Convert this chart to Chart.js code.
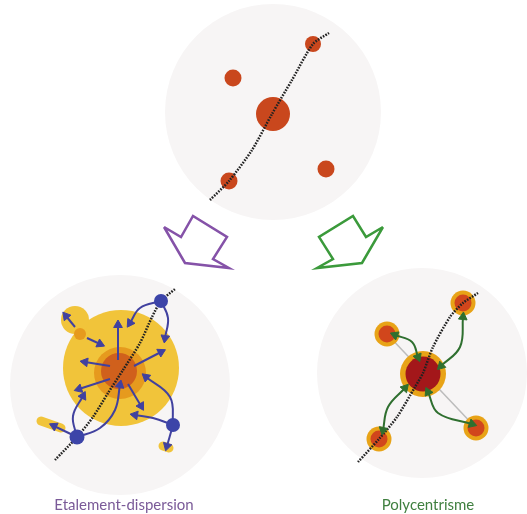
<!DOCTYPE html>
<html>
<head>
<meta charset="utf-8">
<script src="https://cdn.jsdelivr.net/npm/chart.js@4.4.1/dist/chart.umd.min.js"></script>
<style>
  body { margin: 0; background: #fff; }
</style>
</head>
<body>
<canvas id="diagram" width="527" height="514"></canvas>
<script>
// canvas-sized scales: x 0..527, y 0..488 (top down), captions sit on the x axis below
const captions = ['Etalement-dispersion', 'Polycentrisme'];
const captionX = [124, 428];
const captionColors = ['#7a5a98', '#3f7f3f'];

// faint discs behind each stage [x, y, r]
const backdrops = [[273, 112, 108], [120, 385, 110], [422, 373, 105]];

// top stage
const topTowns = [[313, 44, 8], [233, 78, 8.5], [273, 114, 17], [229, 181, 8.5], [326, 169, 8.5]];
const topAxis = [[210, 200], [229, 181], [252, 150], [272, 114], [292, 80], [313, 44], [329, 33]];

// the two block arrows
const purpleArrow = [[164, 227], [181, 237], [193, 216], [227, 237], [213, 259], [229, 268], [185, 263], [164, 227]];
const greenArrow = [[383, 227], [366, 237], [353, 216], [319, 237], [333, 259], [317, 268], [362, 263], [383, 227]];

// etalement-dispersion
const sprawlDiscs = [[121, 368, 58], [75, 320, 14]];
const sprawlStreaks = [[[41, 421], [61, 428]], [[163, 446], [169, 448]]];
const sprawlRing = [[120, 373, 26], [80, 334, 6]];
const sprawlCore = [[119, 371, 18]];
const sprawlTowns = [[161, 301, 7], [77, 437, 7.5], [173, 425, 7]];
const sprawlAxis = [[55, 460], [77, 437], [93, 417], [108, 393], [123, 370], [140, 343], [152, 317], [161, 301], [175, 289]];
const sprawlFlows = [
  [[118, 360], [118, 325]],
  [[134, 366], [161, 352]],
  [[110, 366], [85, 362]],
  [[110, 379], [79, 389]],
  [[128, 384], [141, 406]],
  [[75, 327], [66, 316]],
  [[87, 338], [100, 344]],
  [[77, 437], [54, 426]],
  [[77, 437], [73, 416], [83, 396]],
  [[77, 437], [100, 428], [115, 410], [120, 385]],
  [[161, 301], [140, 308], [130, 323]],
  [[161, 301], [168, 318], [165, 338]],
  [[173, 425], [170, 397], [146, 377]],
  [[173, 425], [153, 418], [135, 415]],
  [[173, 425], [167, 446]]
];

// polycentrisme
const poleRing = [[423, 374, 23]];
const poleCore = [[423, 374, 17.5]];
const satellites = [[463, 303], [387, 334], [379, 439], [476, 428]];
const poleLink = [[387, 334], [476, 428]];
const poleAxis = [[358, 462], [379, 439], [397, 417], [415, 387], [423, 373], [433, 347], [450, 317], [463, 303], [478, 293]];
const poleFlows = [
  [[395, 335], [412, 342], [418, 357]],
  [[441, 366], [460, 347], [463, 317]],
  [[405, 388], [388, 407], [383, 430]],
  [[428, 392], [438, 413], [472, 424]]
];

const xy = pts => pts.map(([x, y]) => ({x, y}));

function discs(list, color) {
  return {
    type: 'bubble',
    data: list.map(([x, y, r]) => ({x, y, r})),
    backgroundColor: color,
    borderWidth: 0,
    clip: false
  };
}

function path(pts, color, width, extra) {
  return Object.assign({
    type: 'line',
    data: xy(pts),
    borderColor: color,
    borderWidth: width,
    pointRadius: 0,
    tension: 0,
    fill: false,
    clip: false
  }, extra || {});
}

function heading(a, b) {
  return Math.atan2(b[0] - a[0], -(b[1] - a[1])) * 180 / Math.PI;
}

function arrow(pts, color, both) {
  const n = pts.length;
  const head = 5;
  const radius = pts.map(() => 0);
  const rotation = pts.map(() => 0);
  radius[n - 1] = head;
  rotation[n - 1] = heading(pts[n - 2], pts[n - 1]);
  if (both) {
    radius[0] = head;
    rotation[0] = heading(pts[1], pts[0]);
  }
  return path(pts, color, 2, {
    tension: n > 2 ? 0.4 : 0,
    pointRadius: radius,
    pointStyle: 'triangle',
    pointRotation: rotation,
    pointBackgroundColor: color,
    pointBorderColor: color,
    pointBorderWidth: 1
  });
}

const dotted = pts => path(pts, '#222222', 2.5, {tension: 0.25, borderDash: [1.6, 1.3]});

// listed bottom to top
const layers = [
  discs(backdrops, '#f7f5f5'),
  discs(topTowns, '#c9471d'),
  dotted(topAxis),
  path(purpleArrow, '#8552a8', 2.5, {borderJoinStyle: 'miter'}),
  path(greenArrow, '#3b9a3b', 2.5, {borderJoinStyle: 'miter'}),
  discs(sprawlDiscs, '#f1c43a'),
  ...sprawlStreaks.map(s => path(s, '#f1c43a', 9, {borderCapStyle: 'round'})),
  discs(sprawlRing, '#e69a1e'),
  discs(sprawlCore, '#d0601c'),
  dotted(sprawlAxis),
  ...sprawlFlows.map(f => arrow(f, '#41419f', false)),
  discs(sprawlTowns, '#3c44a8'),
  path(poleLink, '#bcbcbc', 1.5),
  discs(satellites.map(([x, y]) => [x, y, 12.5]), '#e8a317'),
  discs(satellites.map(([x, y]) => [x, y, 8.5]), '#d1461c'),
  discs(poleRing, '#e8a317'),
  discs(poleCore, '#a3171a'),
  dotted(poleAxis),
  ...poleFlows.map(f => arrow(f, '#2f6f2f', true))
];
layers.forEach((d, i) => { d.order = layers.length - i; });

new Chart(document.getElementById('diagram'), {
  type: 'scatter',
  data: { datasets: layers },
  options: {
    responsive: false,
    animation: false,
    events: [],
    layout: { padding: 0, autoPadding: false },
    plugins: { legend: { display: false }, tooltip: { enabled: false } },
    scales: {
      x: {
        type: 'linear',
        min: 0,
        max: 527,
        grid: { display: false },
        border: { display: false },
        afterFit: axis => { axis.height = 26; },
        afterBuildTicks: axis => { axis.ticks = captionX.map(v => ({value: v})); },
        ticks: {
          autoSkip: false,
          maxRotation: 0,
          padding: 0,
          font: { family: 'Lato', size: 15 },
          color: ctx => captionColors[ctx.index],
          callback: (value, index) => captions[index]
        }
      },
      y: {
        type: 'linear',
        min: 0,
        max: 488,
        reverse: true,
        display: false
      }
    }
  }
});
</script>
</body>
</html>
